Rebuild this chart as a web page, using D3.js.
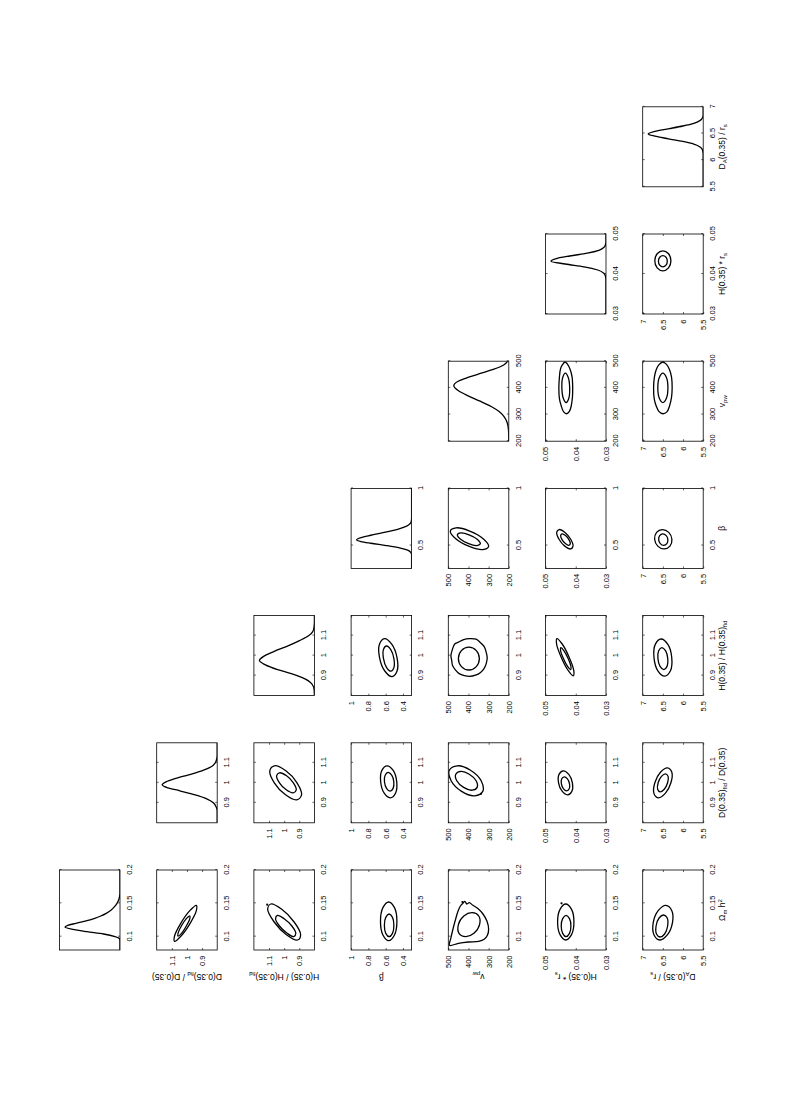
<!DOCTYPE html>
<html><head><meta charset="utf-8">
<script src="https://cdn.jsdelivr.net/npm/d3@7"></script>
<style>body{margin:0;background:#fff} svg{display:block}</style>
</head><body>
<svg id="c" width="800" height="1107"></svg>
<script>
// ---------- parameters ----------
const axisMin = [0.08, 0.8, 0.8, 0.3, 200, 0.03, 5.5];
const axisMax = [0.2, 1.2, 1.2, 1, 500, 0.05, 7];
const xTicks = [[0.1,0.15,0.2],[0.9,1,1.1],[0.9,1,1.1],[0.5,1],[200,300,400,500],[0.03,0.04,0.05],[5.5,6,6.5,7]];
const yTicks = [[],[0.9,1,1.1],[0.9,1,1.1],[0.4,0.6,0.8,1],[200,300,400,500],[0.03,0.04,0.05],[5.5,6,6.5,7]];
// label parts: [text, kind] kind: n normal, b subscript, p superscript
const labels = [
  [["Ω","n"],["m","b"],[" h","n"],["2","p"]],
  [["D(0.35)","n"],["fid","b"],[" / D(0.35)","n"]],
  [["H(0.35) / H(0.35)","n"],["fid","b"]],
  [["β","n"]],
  [["v","n"],["pw","b"]],
  [["H(0.35) * r","n"],["s","b"]],
  [["D","n"],["A","b"],["(0.35) / r","n"],["s","b"]]
];

// ---------- 1D marginals [value, relative density] ----------
const margOm = [[0.08,0],[0.094,0],[0.097,0.01],[0.1,0.09],[0.104,0.3],[0.1075,0.6],[0.111,0.86],[0.1145,1.0],[0.117,0.95],[0.12,0.8],[0.124,0.6],[0.1275,0.46],[0.131,0.35],[0.135,0.25],[0.14,0.16],[0.145,0.1],[0.15,0.055],[0.155,0.025],[0.16,0.008],[0.165,0],[0.2,0]];
const margDD = [[0.8,0],[0.86,0],[0.88,0.02],[0.9,0.07],[0.92,0.19],[0.94,0.4],[0.96,0.68],[0.975,0.9],[0.99,1.0],[1.005,0.93],[1.02,0.78],[1.04,0.52],[1.06,0.28],[1.08,0.11],[1.1,0.035],[1.12,0.008],[1.14,0],[1.2,0]];
const margHH = [[0.8,0],[0.83,0.005],[0.86,0.05],[0.89,0.22],[0.91,0.42],[0.93,0.67],[0.955,0.9],[0.975,1.0],[0.995,0.93],[1.02,0.74],[1.05,0.47],[1.075,0.27],[1.1,0.1],[1.12,0.03],[1.14,0.008],[1.17,0],[1.2,0]];
const margB = [[0.3,0],[0.42,0],[0.44,0.015],[0.46,0.07],[0.48,0.22],[0.5,0.46],[0.52,0.74],[0.535,0.92],[0.551,1.0],[0.57,0.92],[0.59,0.74],[0.61,0.54],[0.63,0.35],[0.65,0.2],[0.67,0.09],[0.69,0.03],[0.71,0.008],[0.74,0],[1,0]];
const margV = [[200,0],[240,0.005],[270,0.03],[290,0.08],[310,0.17],[330,0.32],[350,0.52],[370,0.74],[390,0.92],[408,1.0],[425,0.92],[440,0.73],[455,0.5],[470,0.27],[485,0.1],[495,0.04],[500,0.02]];
const margHr = [[0.03,0],[0.0385,0],[0.0395,0.01],[0.0402,0.04],[0.041,0.15],[0.0418,0.4],[0.0425,0.74],[0.0432,1.0],[0.0438,0.92],[0.0445,0.66],[0.0452,0.34],[0.0459,0.13],[0.0466,0.04],[0.0473,0.01],[0.048,0],[0.05,0]];
const margDA = [[5.5,0],[6.1,0],[6.18,0.01],[6.24,0.05],[6.3,0.17],[6.35,0.37],[6.4,0.63],[6.45,0.88],[6.49,1.0],[6.54,0.88],[6.59,0.62],[6.64,0.37],[6.69,0.17],[6.74,0.06],[6.79,0.015],[6.85,0],[7,0]];
const marginals = [margOm, margDD, margHH, margB, margV, margHr, margDA];

// ---------- 2D contours [x-param value, y-param value]; [outer 95%, inner 68%] ----------
const cDD_Om = [
  [[.147,.938],[.139,.981],[.12,1.041],[.101,1.082],[.093,1.082],[.101,1.039],[.12,.979],[.139,.938]],
  [[.131,.981],[.127,1.004],[.116,1.037],[.105,1.059],[.101,1.059],[.105,1.036],[.116,1.004],[.127,.981]]];
const cHH_Om = [
  [[.149,1.088],[.141,1.109],[.122,1.066],[.103,.985],[.095,.912],[.103,.891],[.122,.934],[.141,1.016]],
  [[.132,1.044],[.127,1.057],[.116,1.031],[.105,.980],[.1,.936],[.105,.923],[.116,.949],[.127,1.0]]];
const cHH_DD = [
  [[1.085,1.064],[1.06,1.095],[1.0,1.065],[.94,.991],[.915,.917],[.94,.885],[1.0,.915],[1.06,.989]],
  [[1.05,1.031],[1.035,1.05],[1.0,1.031],[.965,.986],[.95,.940],[.965,.92],[1.0,.939],[1.035,.984]]];
const cB_Om = [
  [[.152,.565],[.1435,.632],[.123,.66],[.1025,.632],[.094,.565],[.1025,.498],[.123,.47],[.1435,.498]],
  [[.134,.56],[.129,.599],[.117,.615],[.105,.599],[.1,.56],[.105,.521],[.117,.505],[.129,.521]]];
const cB_DD = [
  [[1.085,.584],[1.062,.644],[1.005,.658],[.948,.617],[.925,.546],[.948,.486],[1.005,.472],[1.062,.513]],
  [[1.052,.571],[1.038,.606],[1.005,.614],[.972,.590],[.958,.549],[.972,.514],[1.005,.506],[1.038,.530]]];
const cB_HH = [
  [[1.085,.614],[1.057,.672],[.99,.671],[.923,.610],[.895,.526],[.923,.468],[.99,.469],[1.057,.530]],
  [[1.048,.591],[1.03,.626],[.985,.625],[.94,.589],[.922,.539],[.94,.505],[.985,.505],[1.03,.541]]];
const cV_Om = [
  [[.087,494],[.097,488],[.11,478],[.125,465],[.138,452],[.146,440],[.15,428],[.153,418],[.149,408],[.151,396],[.147,378],[.142,352],[.134,328],[.123,308],[.111,300],[.102,306],[.096,322],[.093,350],[.092,400],[.09,450]],
  [[.136,381],[.131,423],[.118,450],[.105,447],[.1,414],[.105,373],[.118,345],[.131,349]]];
const cV_DD = [
  [[1.085,455],[1.063,495],[1.01,486],[.957,434],[.935,369],[.957,329],[1.01,337],[1.063,390]],
  [[1.057,437],[1.043,463],[1.01,458],[.977,424],[.963,382],[.977,357],[1.01,362],[1.043,396]]];
const cV_HH = [
  [[1.085,395],[1.08,424],[1.066,452],[1.058,468],[1.03,480],[1.0,487],[.975,483],[.95,479],[.93,466],[.91,446],[.9,420],[.896,395],[.902,365],[.916,340],[.935,323],[.96,312],[.99,307],[1.02,313],[1.045,322],[1.066,342],[1.082,362]],
  [[1.042,398],[1.025,435],[.985,450],[.945,435],[.928,398],[.945,361],[.985,346],[1.025,361]]];
const cV_B = [
  [[.655,461],[.627,490],[.56,463],[.493,396],[.465,328],[.493,300],[.56,327],[.627,394]],
  [[.61,438],[.594,455],[.555,439],[.516,399],[.5,358],[.516,341],[.555,357],[.594,397]]];
const cHr_Om = [
  [[.149,.0433],[.141,.0452],[.122,.046],[.103,.0452],[.095,.0433],[.103,.0414],[.122,.0406],[.141,.0414]],
  [[.132,.0432],[.127,.04433],[.116,.0448],[.105,.04433],[.1,.0432],[.105,.04207],[.116,.0416],[.127,.04207]]];
const cHr_DD = [
  [[1.06,.04412],[1.042,.04553],[1.0,.04569],[.958,.04451],[.94,.04268],[.958,.04127],[1.0,.04111],[1.042,.04229]],
  [[1.03,.04382],[1.02,.04464],[.995,.04474],[.97,.04405],[.96,.04298],[.97,.04216],[.995,.04206],[1.02,.04275]]];
const cHr_HH = [
  [[1.085,.0462],[1.058,.04634],[.992,.04481],[.926,.04252],[.899,.0408],[.926,.04066],[.992,.04219],[1.058,.04448]],
  [[1.04,.04492],[1.024,.0450],[.985,.04408],[.946,.04271],[.93,.04168],[.946,.0416],[.985,.04252],[1.024,.04389]]];
const cHr_B = [
  [[.64,.04549],[.615,.0463],[.555,.04553],[.495,.04363],[.47,.04171],[.495,.0409],[.555,.04167],[.615,.04357]],
  [[.602,.04452],[.587,.045],[.552,.04454],[.517,.04342],[.502,.04228],[.517,.0418],[.552,.04226],[.587,.04338]]];
const cHr_V = [
  [[497,.04353],[485,.0445],[469,.04508],[440,.0454],[400,.04559],[360,.0454],[331,.04476],[310,.0440],[303,.04307],[312,.0421],[331,.04152],[365,.0411],[400,.04101],[440,.0412],[469,.04184],[488,.0427]],
  [[455,.04343],[439,.04431],[400,.04459],[361,.04412],[345,.04317],[361,.04229],[400,.04201],[439,.04248]]];
const cDA_Om = [
  [[.147,6.425],[.139,6.616],[.121,6.739],[.103,6.722],[.095,6.575],[.103,6.385],[.121,6.262],[.139,6.278]],
  [[.1325,6.48],[.128,6.594],[.116,6.668],[.104,6.658],[.0995,6.57],[.104,6.456],[.116,6.382],[.128,6.392]]];
const cDA_DD = [
  [[1.075,6.385],[1.053,6.56],[1.0,6.699],[.947,6.722],[.925,6.615],[.947,6.44],[1.0,6.301],[1.053,6.278]],
  [[1.045,6.433],[1.032,6.535],[1.0,6.617],[.968,6.63],[.955,6.568],[.968,6.465],[1.0,6.383],[1.032,6.37]]];
const cDA_HH = [
  [[1.083,6.545],[1.056,6.688],[.99,6.72],[.924,6.624],[.897,6.455],[.924,6.312],[.99,6.28],[1.056,6.376]],
  [[1.04,6.525],[1.024,6.604],[.985,6.622],[.946,6.569],[.93,6.475],[.946,6.396],[.985,6.378],[1.024,6.431]]];
const cDA_B = [
  [[.64,6.512],[.615,6.656],[.555,6.704],[.495,6.626],[.47,6.469],[.495,6.324],[.555,6.276],[.615,6.354]],
  [[.602,6.502],[.587,6.579],[.552,6.604],[.517,6.563],[.502,6.479],[.517,6.401],[.552,6.376],[.587,6.417]]];
const cDA_V = [
  [[497,6.5],[486,6.6],[469,6.663],[440,6.71],[400,6.73],[360,6.715],[331,6.663],[312,6.6],[303,6.5],[310,6.4],[331,6.337],[365,6.285],[400,6.27],[440,6.285],[469,6.337],[488,6.41]],
  [[455,6.5],[439,6.588],[400,6.625],[361,6.588],[345,6.5],[361,6.412],[400,6.375],[439,6.412]]];
const cDA_Hr = [
  [[.0458,6.5],[.04507,6.641],[.0433,6.7],[.04153,6.641],[.0408,6.5],[.04153,6.359],[.0433,6.3],[.04507,6.359]],
  [[.0446,6.5],[.04419,6.578],[.0432,6.61],[.04221,6.578],[.0418,6.5],[.04221,6.422],[.0432,6.39],[.04419,6.422]]];
// small isolated contour specks
const specksV_DD = [[0.945, 338]];
const specksHr_Om = [[0.15, 0.0447]];
const specksHH_Om = [[0.148, 1.112]];
const specksV_Om = [[0.152, 430]];

// panel list: [row (y-param), column (x-param), contours, specks]
const panels2d = [
  [1,0,cDD_Om,[]],
  [2,0,cHH_Om,specksHH_Om],[2,1,cHH_DD,[]],
  [3,0,cB_Om,[]],[3,1,cB_DD,[]],[3,2,cB_HH,[]],
  [4,0,cV_Om,specksV_Om],[4,1,cV_DD,specksV_DD],[4,2,cV_HH,[]],[4,3,cV_B,[]],
  [5,0,cHr_Om,specksHr_Om],[5,1,cHr_DD,[]],[5,2,cHr_HH,[]],[5,3,cHr_B,[]],[5,4,cHr_V,[]],
  [6,0,cDA_Om,[]],[6,1,cDA_DD,[]],[6,2,cDA_HH,[]],[6,3,cDA_B,[]],[6,4,cDA_V,[]],[6,5,cDA_Hr,[]]
];

// ---------- drawing ----------
const FONT = "'Liberation Sans', Arial, Helvetica, sans-serif";
const svg = d3.select("#c");
svg.append("rect").attr("width",800).attr("height",1107).attr("fill","#fff");
// figure drawn in its natural landscape frame then turned a quarter turn
const root = svg.append("g").attr("transform","translate(0,1107) rotate(-90)");
const PW = 80, PH = 60.5;
const colX = j => 157 + 127.2*j;
const rowY = i => 59.5 + 97.2*i;
const fmt = v => String(v);

function styleAxis(g){
  g.select(".domain").remove();
  g.selectAll(".tick line").attr("stroke","#000").attr("stroke-width",0.6);
  g.selectAll(".tick text").attr("font-family",FONT).attr("font-size",7.5).attr("fill","#000");
}

function frame(i,j,withY){
  const g = root.append("g").attr("transform",`translate(${colX(j)},${rowY(i)})`);
  const x = d3.scaleLinear([axisMin[j],axisMax[j]],[0,PW]);
  g.append("g").attr("transform",`translate(0,${PH})`)
    .call(d3.axisBottom(x).tickValues(xTicks[j]).tickFormat(fmt).tickSizeInner(-2).tickSizeOuter(0).tickPadding(6.5))
    .call(styleAxis);
  g.append("g")
    .call(d3.axisTop(x).tickValues(xTicks[j]).tickFormat("").tickSizeInner(-2).tickSizeOuter(0))
    .call(styleAxis);
  let y = null;
  if(withY){
    y = d3.scaleLinear([axisMin[i],axisMax[i]],[PH,0]);
    g.append("g")
      .call(d3.axisLeft(y).tickValues(yTicks[i]).tickFormat(fmt).tickSizeInner(-2).tickSizeOuter(0).tickPadding(5.5))
      .call(styleAxis);
    g.append("g").attr("transform",`translate(${PW},0)`)
      .call(d3.axisRight(y).tickValues(yTicks[i]).tickFormat("").tickSizeInner(-2).tickSizeOuter(0))
      .call(styleAxis);
  }
  const cid = `clip${i}_${j}`;
  g.append("clipPath").attr("id",cid).append("rect").attr("width",PW).attr("height",PH);
  const plot = g.append("g").attr("clip-path",`url(#${cid})`);
  g.append("rect").attr("width",PW).attr("height",PH)
    .attr("fill","none").attr("stroke","#000").attr("stroke-width",0.8);
  return {g, plot, x, y};
}

// diagonal marginals
marginals.forEach((m,k)=>{
  const {plot, x} = frame(k,k,false);
  const y = d3.scaleLinear([0,1.1],[PH,0]);
  plot.append("path").datum(m)
    .attr("d", d3.line().x(d=>x(d[0])).y(d=>y(d[1])).curve(d3.curveMonotoneX))
    .attr("fill","none").attr("stroke","#000").attr("stroke-width",1.3);
});

// off-diagonal contours
const closed = d3.line().curve(d3.curveCatmullRomClosed.alpha(0.5));
panels2d.forEach(([i,j,cs,sp])=>{
  const {plot, x, y} = frame(i,j,true);
  cs.forEach(c=>{
    plot.append("path").attr("d", closed(c.map(d=>[x(d[0]),y(d[1])])))
      .attr("fill","none").attr("stroke","#000").attr("stroke-width",1.3);
  });
  sp.forEach(d=>{
    plot.append("circle").attr("cx",x(d[0])).attr("cy",y(d[1])).attr("r",1.1).attr("fill","#000");
  });
});

// axis titles
function addLabel(t, parts){
  parts.forEach(([s,k])=>{
    const ts = t.append("tspan").text(s);
    if(k==="b") ts.attr("font-size",6).attr("baseline-shift","-25%");
    if(k==="p") ts.attr("font-size",6).attr("baseline-shift","45%");
  });
}
// bottom titles (under the last row)
labels.forEach((parts,j)=>{
  const t = root.append("text")
    .attr("x", colX(j)+PW/2).attr("y", rowY(6)+PH+22)
    .attr("text-anchor","middle").attr("font-family",FONT).attr("font-size",8.5).attr("fill","#000");
  addLabel(t, parts);
});
// left titles (beside the first column)
labels.forEach((parts,i)=>{
  if(i===0) return;
  const cy = rowY(i)+PH/2;
  const t = root.append("text")
    .attr("transform",`translate(${colX(0)-24},${cy}) rotate(-90)`)
    .attr("text-anchor","middle").attr("font-family",FONT).attr("font-size",8.5).attr("fill","#000");
  addLabel(t, parts);
});
</script>
</body></html>
